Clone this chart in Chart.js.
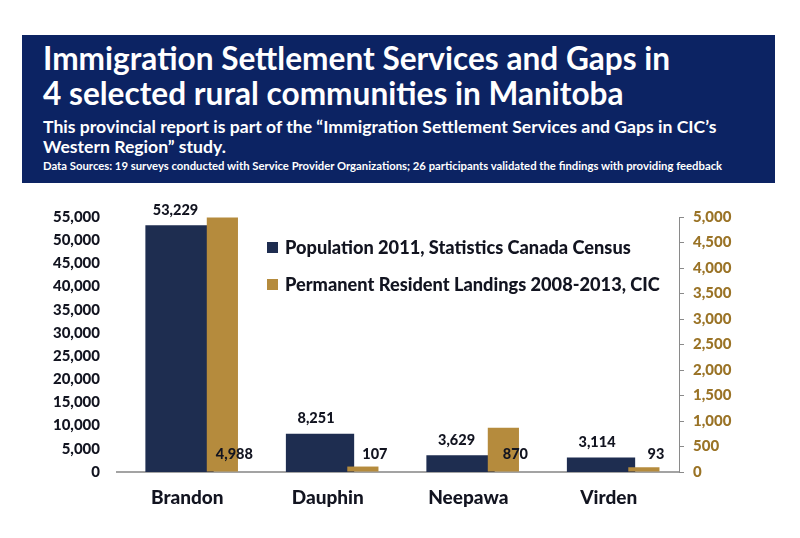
<!DOCTYPE html>
<html><head><meta charset="utf-8">
<script src="https://cdn.jsdelivr.net/npm/chart.js@4.4.1/dist/chart.umd.min.js"></script>
<style>
html,body{margin:0;padding:0;background:#fff;width:800px;height:538px;overflow:hidden;font-family:Lato,"Open Sans",sans-serif;}
#hdr{position:absolute;left:22px;top:35px;width:753px;height:148px;background:#0c2363;color:#fff;font-weight:bold;}
#hdr div{position:absolute;left:21px;white-space:nowrap;}
#t1{top:4px;font-size:31.6px;}
#t2{top:39px;font-size:31.6px;}
#s1{top:81px;font-size:17.6px;}
#s2{top:101px;font-size:17.6px;}
#d1{top:124px;font-size:11.3px;}
#wrap{position:absolute;left:0;top:0;width:800px;height:538px;}
</style></head><body>
<div id="wrap"><canvas id="c" width="800" height="538"></canvas></div>
<div id="hdr">
<div id="t1">Immigration Settlement Services and Gaps in</div>
<div id="t2">4 selected rural communities in Manitoba</div>
<div id="s1">This provincial report is part of the “Immigration Settlement Services and Gaps in CIC’s</div>
<div id="s2">Western Region” study.</div>
<div id="d1">Data Sources: 19 surveys conducted with Service Provider Organizations; 26 participants validated the findings with providing feedback</div>
</div>
<script>
const categories = ["Brandon", "Dauphin", "Neepawa", "Virden"];
const population2011 = [53229, 8251, 3629, 3114];
const prLandings = [4988, 107, 870, 93];
const popLabel = "Population 2011, Statistics Canada Census";
const prLabel = "Permanent Resident Landings 2008-2013, CIC";
const leftTicks = [0,5000,10000,15000,20000,25000,30000,35000,40000,45000,50000,55000];
const rightTicks = [0,500,1000,1500,2000,2500,3000,3500,4000,4500,5000];

const NAVY = "#1e2d50", GOLD = "#b58b3d", GOLDTXT = "#9a7326", TXT = "#121420";
const fmt = v => v.toLocaleString("en-US");
const F = "Lato, 'Open Sans', sans-serif";
const W = "900";
const n = categories.length;
const indexTicks = s => { s.ticks = categories.map((c, i) => ({ value: i })); };

const labelsPlugin = {
  id: "labelsPlugin",
  afterDatasetsDraw(chart) {
    const ctx = chart.ctx;
    ctx.save();
    ctx.font = W + " 14.5px " + F;
    ctx.textAlign = "center";
    ctx.textBaseline = "middle";
    ctx.fillStyle = TXT;
    chart.getDatasetMeta(1).data.forEach((b, i) => {
      ctx.fillText(fmt(population2011[i]), b.x - 4, b.y - 15);
    });
    const base = chart.scales.y2.getPixelForValue(0);
    chart.getDatasetMeta(0).data.forEach((b, i) => {
      ctx.fillText(fmt(prLandings[i]), b.x + 12, base - 18);
    });
    const items = [[popLabel, NAVY], [prLabel, GOLD]];
    const lx = chart.chartArea.left + 150, ly = chart.chartArea.top + 31;
    ctx.textAlign = "left";
    ctx.font = W + " 18.2px " + F;
    items.forEach((it, k) => {
      const y = ly + k * 37;
      ctx.fillStyle = it[1];
      ctx.fillRect(lx, y - 6, 11, 11);
      ctx.fillStyle = TXT;
      ctx.fillText(it[0], lx + 18, y);
    });
    ctx.restore();
  }
};

function build() {
  new Chart(document.getElementById("c"), {
    type: "bar",
    data: {
      labels: categories,
      datasets: [
        { label: prLabel, data: prLandings.map((v, i) => ({ x: i, y: v })), xAxisID: "xg", yAxisID: "y2",
          backgroundColor: GOLD, grouped: false, barPercentage: 0.222, categoryPercentage: 1.0 },
        { label: popLabel, data: population2011.map((v, i) => ({ x: i, y: v })), xAxisID: "xb", yAxisID: "y",
          backgroundColor: NAVY, grouped: false, barPercentage: 0.486, categoryPercentage: 1.0 }
      ]
    },
    options: {
      responsive: false,
      animation: false,
      layout: { padding: { top: 217, left: 0, right: 0, bottom: 0 } },
      plugins: { legend: { display: false }, tooltip: { enabled: false } },
      scales: {
        x: {
          type: "category", offset: true,
          afterFit(s) { s.height = 66; },
          grid: { display: false },
          border: { display: true, color: "#a3a3a3", width: 2 },
          ticks: { color: TXT, font: { family: F, weight: W, size: 19 }, padding: 6 }
        },
        xb: { type: "linear", display: false, offset: false, min: -0.5 + 0.055, max: n - 0.5 + 0.055,
              afterBuildTicks: indexTicks },
        xg: { type: "linear", display: false, offset: false, min: -0.5 - 0.25, max: n - 0.5 - 0.25,
              afterBuildTicks: indexTicks },
        y: {
          position: "left", min: 0, max: 55000,
          afterFit(s) { s.width = 117; },
          afterBuildTicks(s) { s.ticks = leftTicks.map(v => ({ value: v })); },
          grid: { display: false },
          border: { display: false },
          ticks: { color: TXT, font: { family: F, weight: W, size: 15 }, padding: 9,
                   callback: v => fmt(v) }
        },
        y2: {
          position: "right", min: 0, max: 5000,
          afterFit(s) { s.width = 121; },
          afterBuildTicks(s) { s.ticks = rightTicks.map(v => ({ value: v })); },
          grid: { display: true, drawOnChartArea: false, drawTicks: true, tickLength: 5, color: "#8a8a8a", lineWidth: 1 },
          border: { display: true, color: "#8a8a8a", width: 1 },
          ticks: { color: GOLDTXT, font: { family: F, weight: W, size: 15 }, padding: 9,
                   callback: v => fmt(v) }
        }
      }
    },
    plugins: [labelsPlugin]
  });
}
Promise.all([document.fonts.load("bold 16px Lato"), document.fonts.load("900 16px Lato"), document.fonts.load("16px Lato")])
  .then(build, build);
</script>
</body></html>
